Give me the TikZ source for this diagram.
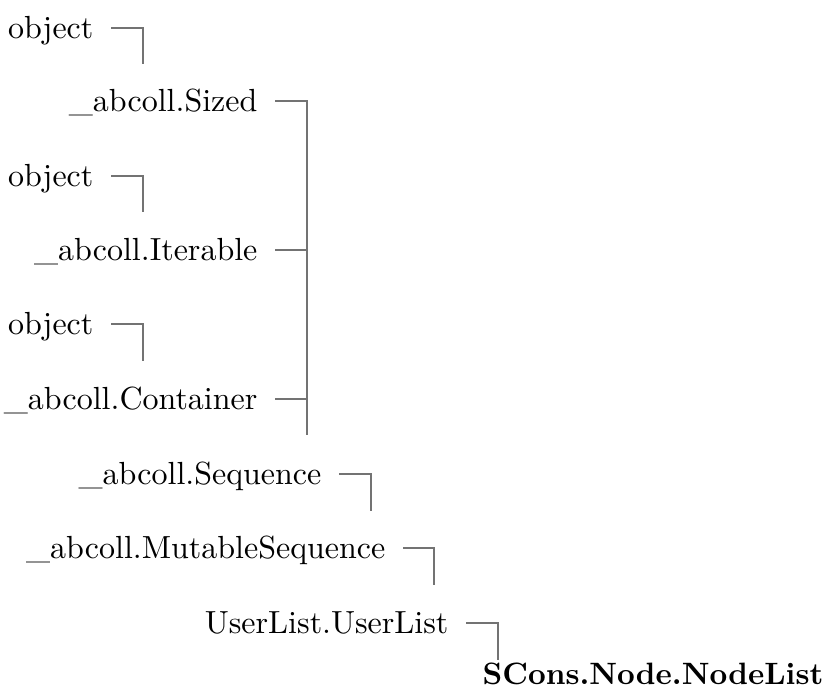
\documentclass[tikz,border=0pt]{standalone}
\usepackage{tikz}
\usetikzlibrary{positioning}

\begin{document}
\begin{tikzpicture}[x=0.3125pt, y=0.3125pt, line width=0.4pt,
    cls/.style={anchor=east, inner xsep=5.3pt, inner ysep=0pt, text height=1.7ex, text depth=.25ex},
    link/.style={draw=black!55}]
    \useasboundingbox (0,0) rectangle (829,-689);

    \node[cls] (obja) at (111,-28) {object};
    \node[cls] (sized) at (275,-101) {\_abcoll.Sized};
    \node[cls] (objb) at (111,-176) {object};
    \node[cls] (iter) at (275,-250) {\_abcoll.Iterable};
    \node[cls] (objc) at (111,-324) {object};
    \node[cls] (cont) at (275,-399) {\_abcoll.Container};
    \node[cls] (seq) at (339,-474) {\_abcoll.Sequence};
    \node[cls] (mut) at (403,-548) {\_abcoll.MutableSequence};
    \node[cls] (ul) at (466,-623) {UserList.UserList};
    \node[anchor=base west, inner sep=0pt, font=\fontsize{9.65pt}{12pt}\selectfont\bfseries]
        (nl) at (482,-684) {SCons.Node.NodeList};

    \coordinate (ca) at (143,-64);
    \coordinate (cb) at (143,-212);
    \coordinate (cc) at (143,-361);
    \coordinate (cd) at (307,-435);
    \coordinate (ce) at (371,-511);
    \coordinate (cf) at (434,-585);
    \coordinate (cg) at (498,-660);

    \draw[link] (obja) -| (ca);
    \draw[link] (objb) -| (cb);
    \draw[link] (objc) -| (cc);

    \draw[link] (sized) -| (cd);
    \draw[link] (iter) -| (cd);
    \draw[link] (cont) -| (cd);

    \draw[link] (seq) -| (ce);
    \draw[link] (mut) -| (cf);
    \draw[link] (ul) -| (cg);

\end{tikzpicture}
\end{document}
